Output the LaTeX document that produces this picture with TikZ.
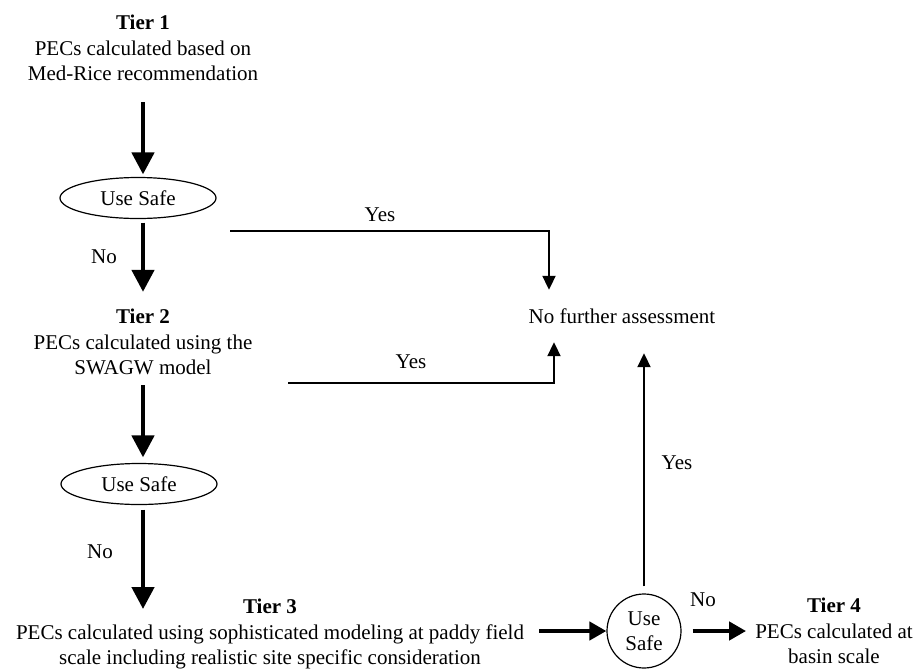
\documentclass[tikz,border=0pt]{standalone}
\usepackage{fontspec}
\setmainfont{Liberation Serif}
\usepackage{tikz}
\usetikzlibrary{arrows.meta, positioning, shapes.geometric}
\tikzset{%
	tier text/.style={
		align=center,
		inner sep=0pt,
		font=\fontsize{21}{25.5}\selectfont
	},
	use safe/.style={
		ellipse,
		draw,
		line width=1.2pt,
		inner sep=0pt,
		minimum width=156pt,
		minimum height=41pt,
		font=\fontsize{21}{25.5}\selectfont
	},
	use safe round/.style={
		circle,
		draw,
		line width=1.2pt,
		inner sep=0pt,
		minimum size=74pt,
		align=center,
		font=\fontsize{21}{25}\selectfont
	},
	answer/.style={
		inner sep=0pt,
		font=\fontsize{21}{25.5}\selectfont
	},
	big arrow/.style={line width=4.5pt, -{Triangle[length=22pt, width=22pt]}},
	side arrow/.style={line width=4.5pt, -{Triangle[length=17pt, width=18pt]}},
	thin arrow/.style={line width=2pt, -{Triangle[length=14pt, width=13pt]}},
}
\begin{document}
\begin{tikzpicture}[x=1pt, y=-1pt]
			\useasboundingbox (0,0) rectangle (916,670);
			
			% Tier texts (left column and bottom row)
			\node[tier text] (tier1) at (143,48) {\textbf{Tier 1}\\PECs calculated based on\\Med-Rice recommendation};
			\node[tier text] (tier2) at (143,342) {\textbf{Tier 2}\\PECs calculated using the\\SWAGW model};
			\node[tier text] (tier3) at (270,634) {\textbf{Tier 3}\\PECs calculated using sophisticated modeling at paddy field\\scale including realistic site specific consideration};
			\node[tier text] (tier4) at (834,631) {\textbf{Tier 4}\\PECs calculated at\\basin scale};
			
			% Decisions
			\node[use safe] (safeA) at (138,198) {Use Safe};
			\node[use safe] (safeB) at (139,484) {Use Safe};
			\node[use safe round] (safeC) at (644,631) {Use\\Safe};
			
			% End point, placed right of the second tier
			\node[tier text, minimum height=52pt] (nofurther) at (622,316) {No further assessment};
			
			% Answer labels
			\node[answer] (noA) at (104,257) {No};
			\node[answer] (noB) at (100,552) {No};
			\node[answer] (noC) at (703,600) {No};
			\node[answer] (yesA) at (380,215) {Yes};
			\node[answer] (yesB) at (411,362) {Yes};
			\node[answer] (yesC) at (677,463) {Yes};
			
			% Free ends of the connectors
			\coordinate (fromA) at (230,231);
			\coordinate (fromB) at (288,383);
			\coordinate (tier3 top) at (143,609);
			
			% Thick arrows down the left column
			\draw[big arrow, shorten <=21pt, shorten >=2.5pt] (tier1.south) -- (tier1.south |- safeA.north);
			\draw[big arrow, shorten <=3.5pt, shorten >=17pt] (safeA.south -| tier1.south) -- (tier2.north);
			\draw[big arrow, shorten <=10pt, shorten >=5.5pt] (tier2.south) -- (tier2.south |- safeB.north);
			\draw[big arrow, shorten <=4.5pt] (safeB.south -| tier3 top) -- (tier3 top);
			
			% Thick arrows along the bottom row
			\draw[side arrow, shorten <=15pt] (tier3.east |- safeC.west) -- (safeC.west);
			\draw[side arrow, shorten <=11pt, shorten >=9pt] (safeC.east) -- (tier4.west |- safeC.east);
			
			% Yes connectors
			\draw[thin arrow] (fromA) -| ([xshift=-73pt]nofurther.north);
			\draw[thin arrow] (fromB) -| ([xshift=-68pt]nofurther.south);
			\draw[thin arrow, shorten <=7pt, shorten >=11pt] (safeC.north) -- (safeC.north |- nofurther.south);
		\end{tikzpicture}
\end{document}
